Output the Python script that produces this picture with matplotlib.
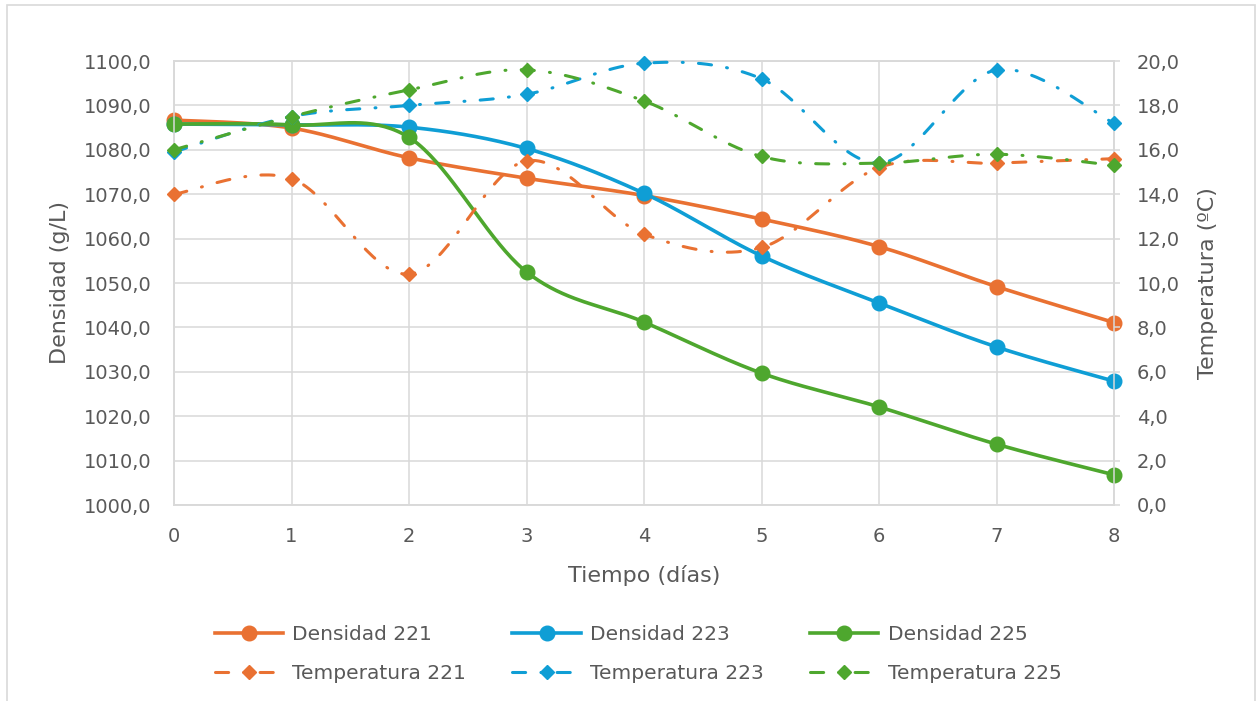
import numpy as np
import matplotlib
matplotlib.use("Agg")
import matplotlib.pyplot as plt
from matplotlib.lines import Line2D
from matplotlib.patches import Rectangle
from matplotlib.ticker import FuncFormatter, MultipleLocator

dias = [0, 1, 2, 3, 4, 5, 6, 7, 8]

dens_221 = [1086.7, 1084.9, 1078.2, 1073.6, 1069.7, 1064.4, 1058.2, 1049.2, 1041.1]
dens_223 = [1085.8, 1085.6, 1085.1, 1080.3, 1070.2, 1056.1, 1045.5, 1035.6, 1027.9]
dens_225 = [1085.8, 1085.6, 1082.8, 1052.5, 1041.2, 1029.7, 1022.1, 1013.7, 1006.8]

temp_221 = [14.0, 14.7, 10.4, 15.5, 12.2, 11.6, 15.2, 15.4, 15.6]
temp_223 = [15.9, 17.5, 18.0, 18.5, 19.9, 19.2, 15.4, 19.6, 17.2]
temp_225 = [16.0, 17.5, 18.7, 19.6, 18.2, 15.7, 15.4, 15.8, 15.3]

muestras = ["221", "223", "225"]
colores = ["#E97132", "#0F9ED5", "#4EA72E"]

TXT = "#595959"
GRID = "#D9D9D9"
plt.rcParams["font.family"] = ["DejaVu Sans"]


def suavizar(x, y, n=40):
    # Catmull-Rom style Bezier smoothing through every point
    p = np.column_stack([x, y]).astype(float)
    p = np.vstack([p[:1], p, p[-1:]])
    t = np.linspace(0, 1, n)[:, None]
    segs = []
    for i in range(1, len(p) - 2):
        p0, p1, p2, p3 = p[i - 1], p[i], p[i + 1], p[i + 2]
        c1 = p1 + (p2 - p0) / 6
        c2 = p2 - (p3 - p1) / 6
        b = ((1 - t) ** 3) * p1 + 3 * ((1 - t) ** 2) * t * c1 \
            + 3 * (1 - t) * t ** 2 * c2 + t ** 3 * p2
        segs.append(b if i == 1 else b[1:])
    s = np.vstack(segs)
    return s[:, 0], s[:, 1]


fig = plt.figure(figsize=(12.57, 7.01), dpi=100)
ax = fig.add_axes([174 / 1257, 1 - 505 / 701, 940 / 1257, 444 / 701])
ax2 = ax.twinx()

# outer chart frame
fig.patches.append(Rectangle((7 / 1257, -0.05), 1248 / 1257, 1.05 - 5 / 701,
                             transform=fig.transFigure, fill=False,
                             edgecolor=GRID, lw=1.2))

coma = FuncFormatter(lambda v, _: f"{v:.1f}".replace(".", ","))

ax.set_xlim(0, 8)
ax.set_ylim(1000, 1100)
ax2.set_ylim(0, 20)
ax.yaxis.set_major_locator(MultipleLocator(10))
ax2.yaxis.set_major_locator(MultipleLocator(2))
ax.xaxis.set_major_locator(MultipleLocator(1))
ax.yaxis.set_major_formatter(coma)
ax2.yaxis.set_major_formatter(coma)

ax.grid(True, color=GRID, lw=1.1, zorder=0)
ax.set_axisbelow(True)
for a in (ax, ax2):
    for sp in a.spines.values():
        sp.set_color(GRID)
        sp.set_linewidth(1.1)
ax.tick_params(axis="both", length=0, labelsize=14, colors=TXT)
ax.tick_params(axis="y", pad=16)
ax.tick_params(axis="x", pad=16)
ax2.tick_params(axis="y", length=4.5, width=1.1, color=GRID, labelsize=14,
                labelcolor=TXT, pad=12)

handles = []
for dens, m, c in zip([dens_221, dens_223, dens_225], muestras, colores):
    sx, sy = suavizar(dias, dens)
    ax.plot(sx, sy, color=c, lw=2.6, clip_on=False, zorder=3)
    ax.plot(dias, dens, "o", color=c, ms=10.5, clip_on=False, zorder=3)
    handles.append(Line2D([], [], color=c, lw=2.6, marker="o", ms=10.5,
                          label=f"Densidad {m}"))
for temp, m, c in zip([temp_221, temp_223, temp_225], muestras, colores):
    sx, sy = suavizar(dias, temp)
    ax2.plot(sx, sy, color=c, lw=2.2, ls=(0, (4.3, 5, 0.3, 5)),
             dash_capstyle="round", clip_on=False, zorder=3)
    ax2.plot(dias, temp, "D", color=c, ms=7, clip_on=False, zorder=4)
    handles.append(Line2D([], [], color=c, lw=2.2, ls=(0, (4.3, 5, 0.3, 5)),
                          dash_capstyle="round", marker="D", ms=7,
                          label=f"Temperatura {m}"))

fig.text(60 / 1257, 1 - 283 / 701, "Densidad (g/L)", rotation=90,
         ha="center", va="center", fontsize=16, color=TXT)
fig.text(1208 / 1257, 1 - 283 / 701, "Temperatura (ºC)", rotation=90,
         ha="center", va="center", fontsize=16, color=TXT)
fig.text(644 / 1257, 1 - 576 / 701, "Tiempo (días)",
         ha="center", va="center", fontsize=16, color=TXT)

orden = [handles[0], handles[3], handles[1], handles[4], handles[2], handles[5]]
fig.legend(handles=orden, ncol=3, loc="center",
           bbox_to_anchor=(638 / 1257, 1 - 654 / 701), frameon=False,
           fontsize=14.5, labelcolor=TXT, handlelength=3.4, handletextpad=0.45,
           columnspacing=2.3, labelspacing=0.95)

fig.savefig("out.png", dpi=100, facecolor="white")
